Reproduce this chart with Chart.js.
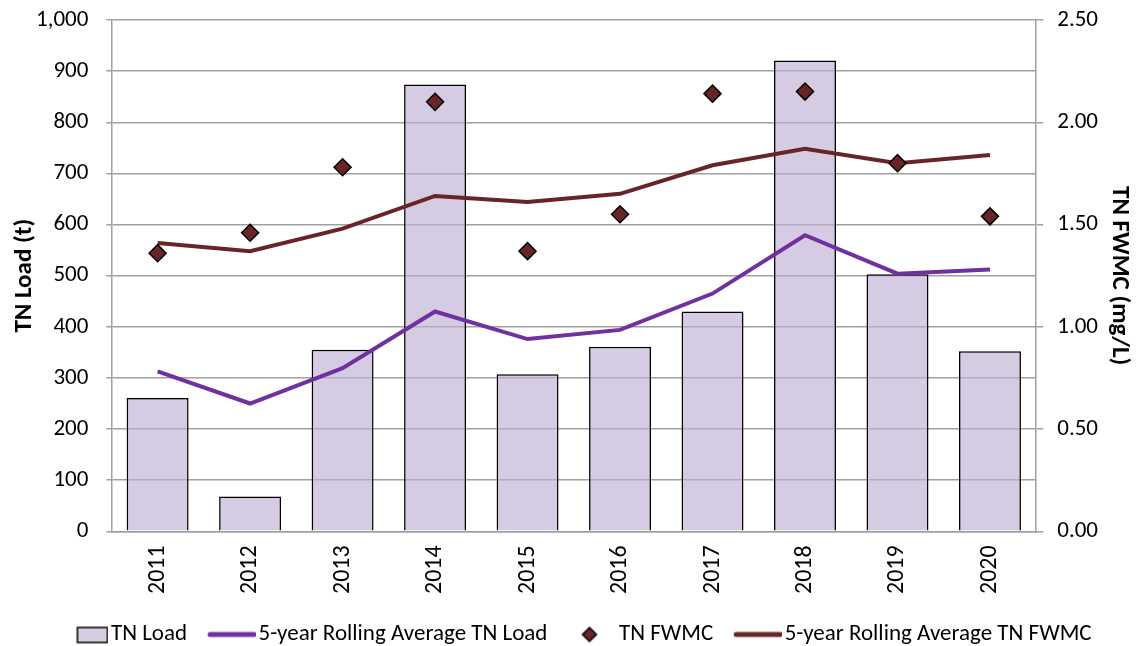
<!DOCTYPE html>
<html>
<head>
<meta charset="utf-8">
<script src="https://cdn.jsdelivr.net/npm/chart.js@4"></script>
<style>
    html, body { margin: 0; padding: 0; background: #fff; }
    #tn-chart { display: block; }
</style>
</head>
<body>
<canvas id="tn-chart" width="1139" height="646"></canvas>
<script>
// Data
const years = ["2011", "2012", "2013", "2014", "2015", "2016", "2017", "2018", "2019", "2020"];
const tnLoad = [261, 68, 355, 874, 307, 361, 430, 921, 503, 352];
const rollingLoad = [313, 250, 319, 430, 376, 394, 465, 579, 504, 512];
const tnFwmc = [1.36, 1.46, 1.78, 2.10, 1.37, 1.55, 2.14, 2.15, 1.80, 1.54];
const rollingFwmc = [1.41, 1.37, 1.48, 1.64, 1.61, 1.65, 1.79, 1.87, 1.80, 1.84];
const loadTicks = [0, 100, 200, 300, 400, 500, 600, 700, 800, 900, 1000];
const fwmcTicks = [0, 0.5, 1, 1.5, 2, 2.5];

const barColor = 'rgba(190, 175, 210, 0.65)';
const purple = '#7030A0';
const darkRed = '#682426';
const gridGrey = '#A0A0A0';
const fontFamily = 'Carlito, "Open Sans", sans-serif';

Chart.defaults.font.family = fontFamily;
Chart.defaults.color = '#000';

// Legend keys: small canvases so each marker gets its own size
const keyW = 64;
const makeKey = draw => {
    const c = document.createElement('canvas');
    c.width = keyW;
    c.height = 20;
    draw(c.getContext('2d'));
    return c;
};
const barKey = makeKey(ctx => {
    ctx.fillStyle = 'rgb(213, 204, 226)';
    ctx.strokeStyle = '#000';
    ctx.lineWidth = 1.5;
    ctx.fillRect(33, 3, 30, 15);
    ctx.strokeRect(33, 3, 30, 15);
});
const lineKey = color => makeKey(ctx => {
    ctx.strokeStyle = color;
    ctx.lineWidth = 5;
    ctx.lineCap = 'round';
    ctx.beginPath();
    ctx.moveTo(18, 10);
    ctx.lineTo(62, 10);
    ctx.stroke();
});
const diamondKey = makeKey(ctx => {
    ctx.fillStyle = darkRed;
    ctx.strokeStyle = '#000';
    ctx.lineWidth = 1.5;
    ctx.beginPath();
    ctx.moveTo(37, 3);
    ctx.lineTo(44, 10);
    ctx.lineTo(37, 17);
    ctx.lineTo(30, 10);
    ctx.closePath();
    ctx.fill();
    ctx.stroke();
});
const legendKeys = [barKey, lineKey(purple), diamondKey, lineKey(darkRed)];

const tnCanvas = document.getElementById('tn-chart');
let tnChart = new Chart(tnCanvas, {
    type: 'bar',
    data: {
        labels: years,
        datasets: [
            {
                label: 'TN Load',
                type: 'bar',
                data: tnLoad,
                yAxisID: 'y',
                backgroundColor: barColor,
                borderColor: '#000',
                borderWidth: 1.5,
                barPercentage: 0.67,
                categoryPercentage: 1,
                order: 4
            },
            {
                label: '5-year Rolling Average TN Load',
                type: 'line',
                data: rollingLoad,
                yAxisID: 'y',
                borderColor: purple,
                borderWidth: 4,
                pointRadius: 0,
                tension: 0,
                order: 3
            },
            {
                label: 'TN FWMC',
                type: 'line',
                data: tnFwmc,
                yAxisID: 'y1',
                showLine: false,
                pointStyle: 'rectRot',
                pointRadius: 8.5,
                backgroundColor: darkRed,
                borderColor: '#000',
                borderWidth: 1.5,
                order: 1
            },
            {
                label: '5-year Rolling Average TN FWMC',
                type: 'line',
                data: rollingFwmc,
                yAxisID: 'y1',
                borderColor: darkRed,
                borderWidth: 4,
                pointRadius: 0,
                tension: 0,
                order: 2
            }
        ]
    },
    options: {
        responsive: false,
        animation: false,
        layout: { autoPadding: false, padding: { left: 6, right: 0, top: 8, bottom: -10 } },
        scales: {
            x: {
                grid: { display: false },
                border: { display: true, color: gridGrey, width: 1.5 },
                afterFit: axis => { axis.height = axis.height + 9; },
                ticks: {
                    minRotation: 90,
                    maxRotation: 90,
                    autoSkip: false,
                    padding: 6,
                    font: { size: 24 }
                }
            },
            y: {
                position: 'left',
                min: 0,
                max: 1000,
                afterBuildTicks: axis => { axis.ticks = loadTicks.map(v => ({ value: v })); },
                afterFit: axis => {
                    axis.width = axis.width - 24;
                    axis.paddingTop = 20;
                },
                grid: { color: gridGrey, lineWidth: 1.5, tickLength: 5 },
                border: { color: gridGrey, width: 1.5 },
                ticks: {
                    padding: 18,
                    font: { size: 23 },
                    callback: v => v.toLocaleString('en-US')
                },
                title: {
                    display: true,
                    text: 'TN Load (t)',
                    font: { size: 25, weight: 'bold' },
                    padding: { bottom: 2 }
                }
            },
            y1: {
                position: 'right',
                min: 0,
                max: 2.5,
                afterBuildTicks: axis => { axis.ticks = fwmcTicks.map(v => ({ value: v })); },
                afterFit: axis => {
                    axis.width = axis.width - 10;
                    axis.paddingTop = 20;
                },
                grid: { drawOnChartArea: false, color: gridGrey, lineWidth: 1.5, tickLength: 7 },
                border: { color: gridGrey, width: 1.5 },
                ticks: {
                    padding: 14,
                    font: { size: 23 },
                    callback: v => v.toFixed(2)
                },
                title: {
                    display: true,
                    text: 'TN FWMC (mg/L)',
                    font: { size: 25, weight: 'bold' },
                    padding: { top: 5, bottom: 2 }
                }
            }
        },
        plugins: {
            tooltip: { enabled: false },
            legend: {
                position: 'bottom',
                labels: {
                    usePointStyle: true,
                    pointStyleWidth: 46,
                    boxHeight: 15,
                    padding: 14,
                    font: { size: 23 },
                    generateLabels: chart => chart.data.datasets.map((ds, i) => ({
                        text: ds.label,
                        datasetIndex: i,
                        hidden: false,
                        fontColor: '#000',
                        pointStyle: legendKeys[i],
                        lineWidth: 0
                    }))
                }
            }
        }
    }
});
</script>
</body>
</html>
